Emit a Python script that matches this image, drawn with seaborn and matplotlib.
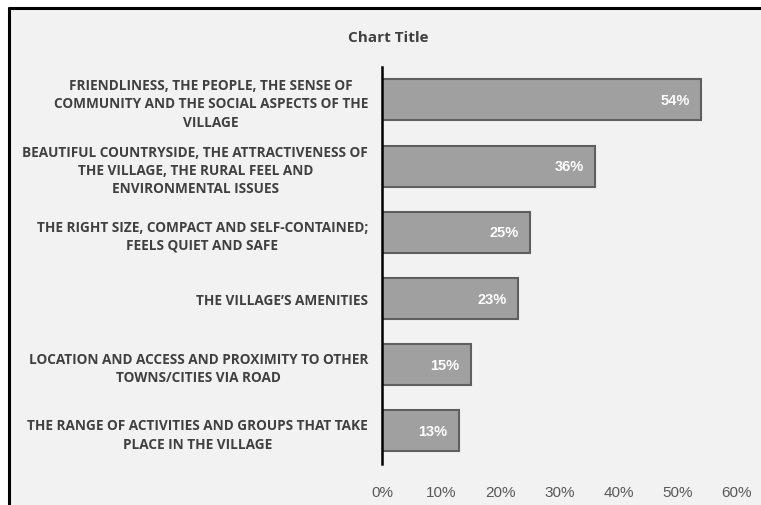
import pandas as pd
import matplotlib.pyplot as plt
import seaborn as sns
from matplotlib.patches import Rectangle
from matplotlib.lines import Line2D
from matplotlib.ticker import PercentFormatter

sns.set_theme(style="white")
plt.rcParams['font.family'] = ['Open Sans', 'DejaVu Sans']

# Data
categories = [
    "FRIENDLINESS, THE PEOPLE, THE SENSE OF\nCOMMUNITY AND THE SOCIAL ASPECTS OF THE\nVILLAGE",
    "BEAUTIFUL COUNTRYSIDE, THE ATTRACTIVENESS OF\nTHE VILLAGE, THE RURAL FEEL AND\nENVIRONMENTAL ISSUES",
    "THE RIGHT SIZE, COMPACT AND SELF-CONTAINED;\nFEELS QUIET AND SAFE",
    "THE VILLAGE\u2019S AMENITIES",
    "LOCATION AND ACCESS AND PROXIMITY TO OTHER\nTOWNS/CITIES VIA ROAD",
    "THE RANGE OF ACTIVITIES AND GROUPS THAT TAKE\nPLACE IN THE VILLAGE",
]
values = [0.54, 0.36, 0.25, 0.23, 0.15, 0.13]
value_labels = ["54%", "36%", "25%", "23%", "15%", "13%"]

df = pd.DataFrame({"category": categories, "value": values})

bg = "#f2f2f2"
fig = plt.figure(figsize=(7.61, 5.06), dpi=100, facecolor="white")

# chart area background with top and left border
fig.patches.append(Rectangle((9 / 761, 0), 1, 1 - 9 / 506, transform=fig.transFigure,
                             facecolor=bg, edgecolor="none", zorder=-10))
fig.lines.append(Line2D([9 / 761, 9 / 761], [0, 1 - 9 / 506], transform=fig.transFigure,
                        color="black", linewidth=2.2, zorder=-5))
fig.lines.append(Line2D([9 / 761, 1], [1 - 9 / 506, 1 - 9 / 506], transform=fig.transFigure,
                        color="black", linewidth=2.2, zorder=-5))

ax = fig.add_axes([0.502, 0.081, 0.466, 0.785])
ax.set_facecolor(bg)

sns.barplot(data=df, x="value", y="category", color="#a0a0a0", saturation=1,
            edgecolor="#5f5f5f", linewidth=1.5, width=0.62, ax=ax)

# value labels inside bar ends
for i, (v, lab) in enumerate(zip(values, value_labels)):
    ax.text(v - 0.019, i, lab, ha="right", va="center", color="white",
            fontsize=10.5, fontweight="bold", family=["Liberation Sans", "DejaVu Sans"])

ax.set_xlim(0, 0.6)
ax.set_ylim(5.5, -0.5)
ax.xaxis.set_major_formatter(PercentFormatter(1.0, decimals=0))
ax.set_xticks([0, 0.1, 0.2, 0.3, 0.4, 0.5, 0.6])
ax.tick_params(axis="x", length=0, pad=15, labelsize=11, labelcolor="#595959")
for t in ax.get_xticklabels():
    t.set_family(["Liberation Sans", "DejaVu Sans"])
ax.tick_params(axis="y", length=0, pad=10)
for t in ax.get_yticklabels():
    t.set_fontsize(9.8)
    t.set_fontweight("bold")
    t.set_color("#404040")
    t.set_multialignment("center")
    t.set_linespacing(1.38)

ax.set_xlabel("")
ax.set_ylabel("")
for side in ["top", "right", "bottom"]:
    ax.spines[side].set_visible(False)
ax.spines["left"].set_color("black")
ax.spines["left"].set_linewidth(1.8)

fig.text(0.51, 0.925, "Chart Title", ha="center", va="center", fontsize=11,
         fontweight="bold", color="#404040")

fig.savefig("out.png", dpi=100)
